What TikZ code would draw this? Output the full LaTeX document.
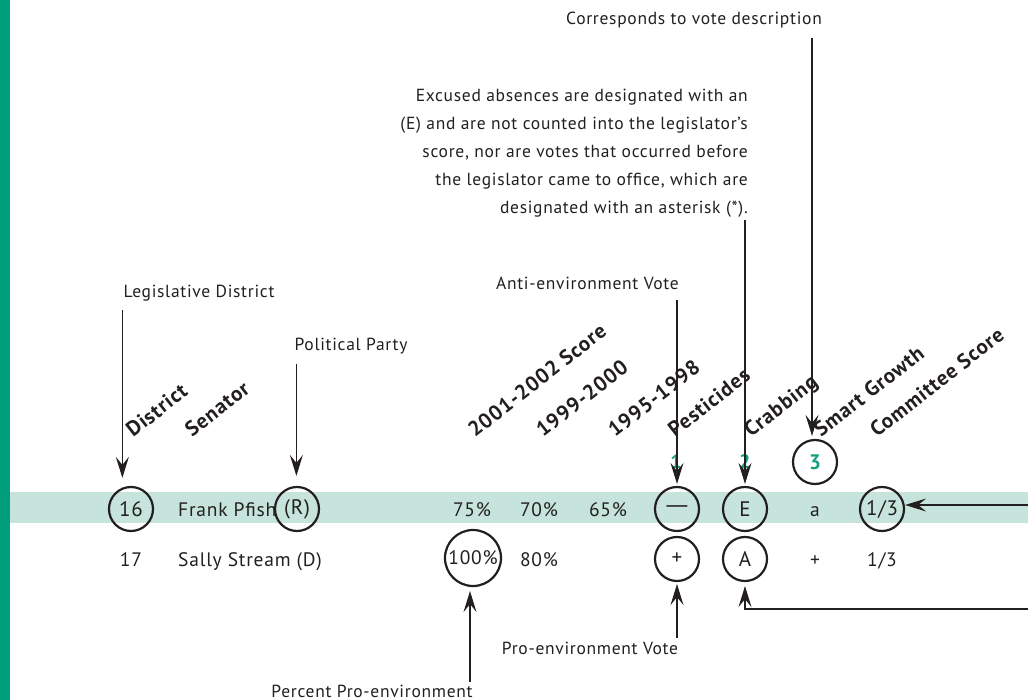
\documentclass[tikz,border=0pt]{standalone}
\usepackage{fontspec}
\usepackage{graphicx}
\setmainfont{PT Sans}[LetterSpace=4]
\usetikzlibrary{arrows.meta,calc}
\definecolor{barg}{RGB}{0,158,122}
\definecolor{band}{RGB}{198,228,219}
\definecolor{ink}{RGB}{35,31,32}
\definecolor{numg}{RGB}{20,160,128}
\begin{document}
\begin{tikzpicture}[x=1pt,y=-1pt,
  txt/.style={font=\fontsize{17.5}{21}\selectfont, text=ink, inner sep=0pt},
  tab/.style={font=\fontsize{19.5}{22}\selectfont, text=ink, inner sep=0pt},
  hdr/.style={font=\fontsize{21}{23}\selectfont\bfseries, text=ink, inner sep=0pt, rotate=38, anchor=base west},
  circ/.style={circle, draw=ink, line width=2.2pt, minimum size=44pt, inner sep=0pt, text=ink, font=\fontsize{21}{23}\selectfont},
  gnum/.style={font=\fontsize{19.5}{22}\selectfont\bfseries, text=numg, inner sep=0pt},
  arr/.style={draw=ink, line width=1.1pt, -{Stealth[length=21pt,width=13pt,inset=8pt]}}]
\useasboundingbox (0,0) rectangle (1028,700);
\fill[barg] (0,0) rectangle (10,700);
\fill[band] (10,492) rectangle (1028,523);

% annotation labels
\node[txt] (cvd) at (694,20) {Corresponds to vote description};
\node[txt, align=right, anchor=east, font=\fontsize{17.5}{28}\selectfont] (ex) at (748,153)
  {Excused absences are designated with an\\(E) and are not counted into the legislator’s\\score, nor are votes that occurred before\\the legislator came to office, which are\\designated with an asterisk (*).};
\node[txt] (ld) at (199,293) {Legislative District};
\node[txt] (pp) at (351,346) {Political Party};
\node[txt, anchor=east] (ae) at (679,283) {Anti-environment Vote};
\node[txt] (pe) at (590,648) {Pro-environment Vote};
\node[txt] (ppe) at (372,691) {Percent Pro-environment};

% headers
\node[hdr] (hd) at (133,438) {District};
\node[hdr] (hs) at (192,438) {Senator};
\node[hdr] (h01) at (475,438) {2001-2002 Score};
\node[hdr] (h99) at (543,438) {1999-2000};
\node[hdr] (h95) at (615,438) {1995-1998};
\node[hdr] (hp) at (675,438) {Pesticides};
\node[hdr] (hc) at (751,438) {Crabbing};
\node[hdr] (hsg) at (821,438) {Smart Growth};
\node[hdr] (hcs) at (877,438) {Committee Score};

% vote numbers
\node[gnum] (n1) at (676,462) {1};
\node[gnum] (n2) at (745,462) {2};
\node[circ, font=\fontsize{21}{23}\selectfont\bfseries, text=numg] (c3) at (815,462) {3};

% row 1
\node[circ] (c16) at (131,509) {16};
\node[tab, anchor=base west] (fp) at (178,516) {Frank Pfish};
\node[circ] (cR) at (297,509) {(R)};
\node[tab, anchor=base] (s75) at (472,516) {75\%};
\node[tab, anchor=base] (s70) at (539,516) {70\%};
\node[tab, anchor=base] (s65) at (608,516) {65\%};
\node[circ] (cDash) at (677,509) {\scalebox{1.7}[1]{—}};
\node[circ] (cE) at (745,509) {E};
\node[tab, anchor=base] (va) at (815,516) {a};
\node[circ] (c13) at (882,509) {1/3};

% row 2
\node[tab, anchor=base] (d17) at (131,566) {17};
\node[tab, anchor=base west] (ss) at (178,566) {Sally Stream (D)};
\node[circ, minimum size=56pt, font=\fontsize{19.5}{22}\selectfont] (c100) at (473,558) {100\%};
\node[tab, anchor=base] (s80) at (539,566) {80\%};
\node[circ] (cPlus) at (677,559) {+};
\node[circ] (cA) at (745,559) {A};
\node[tab, anchor=base] (vp) at (815,566) {+};
\node[tab, anchor=base] (r13) at (882,566) {1/3};

% connectors
\coordinate (cr) at (1028,505);
\coordinate (br) at (1028,609);
\draw[arr] ($(ld.south west)+(-1,9)$) -- ($(c16.north -| ld.south west)+(-1,-8)$);
\draw[arr] ($(pp.south west)+(2,10)$) -- ($(cR.north -| pp.south west)+(2,-10)$);
\draw[arr] ($(cDash.north |- ae.south)+(0,10)$) -- ($(cDash.north)+(0,-2)$);
\draw[arr] ($(cE.north |- ex.south)+(0,3)$) -- ($(cE.north)+(0,-2)$);
\draw[arr] ($(c3.north |- cvd.south)+(-3,10)$) -- ($(c3.north)+(-3,-3)$);
\draw[arr] (cr) -- ($(c13.east)+(0,-4)$);
\draw[arr] (br) -- (br -| cA.south) -- ($(cA.south)+(0,4)$);
\draw[arr] ($(cPlus.south |- pe.north)+(0,-4)$) -- ($(cPlus.south)+(0,2)$);
\draw[arr] ($(c100.south |- ppe.north)+(-3,-3)$) -- ($(c100.south)+(-3,4)$);
\end{tikzpicture}
\end{document}
